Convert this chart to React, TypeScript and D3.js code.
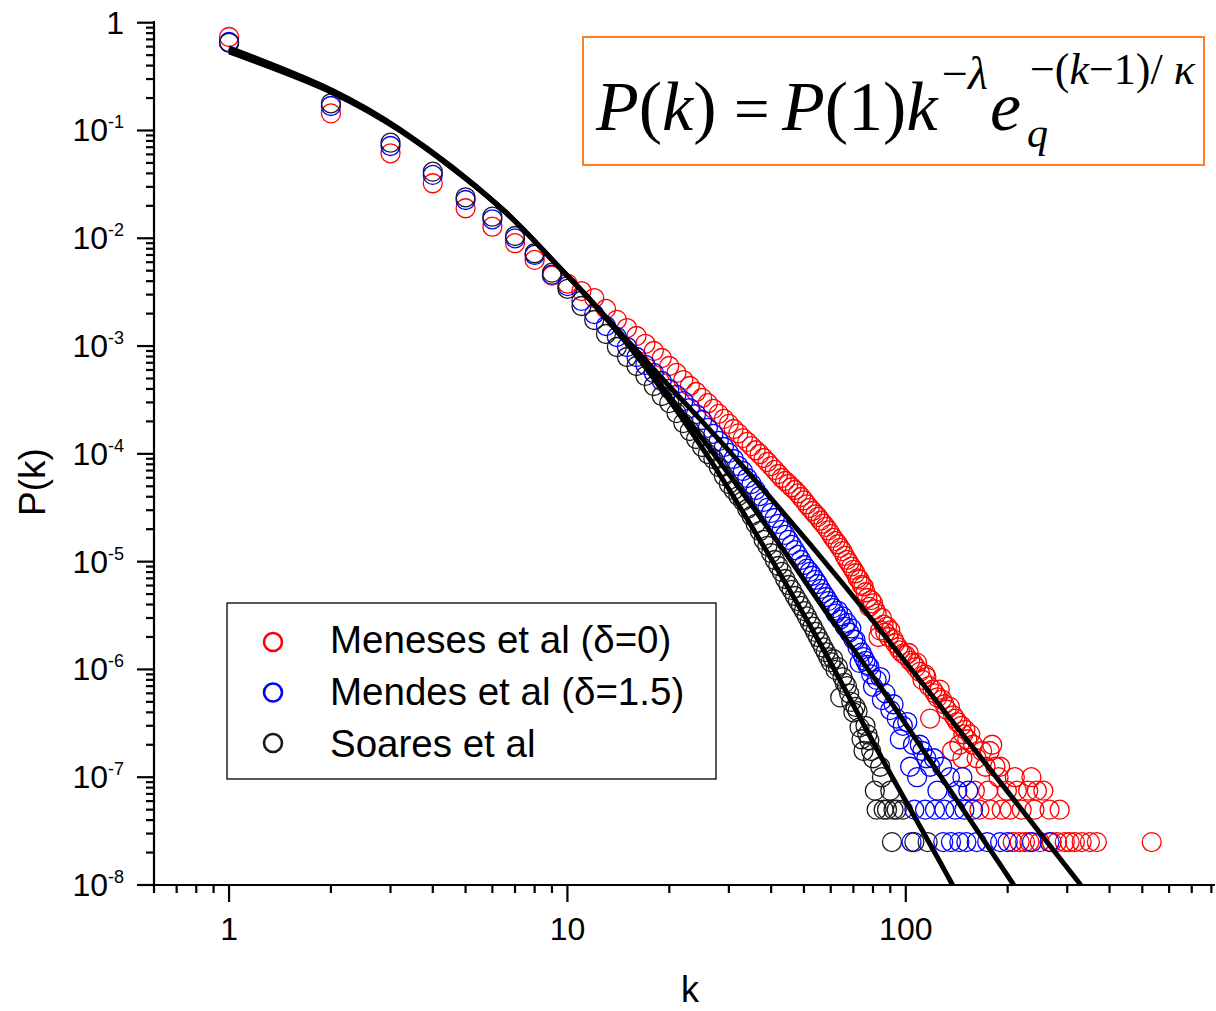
import React from 'react';
import * as d3 from 'd3';

// ---------- data ----------
// dense parts: P(k) for k = 1, 2, 3, ...
const menesesDense = [
  0.737, 0.144, 0.0614, 0.0324, 0.019, 0.0128, 0.009, 0.0063, 0.0045, 0.0038,
  0.00324, 0.00279, 0.00221, 0.00175, 0.00147, 0.00124, 0.00105, 0.0009, 0.000775, 0.000653,
  0.000563, 0.000484, 0.000426, 0.000375, 0.00033, 0.000295, 0.000261, 0.000235, 0.000211, 0.00019,
  0.00017, 0.000155, 0.00014, 0.000129, 0.000118, 0.000108, 0.0000997, 0.0000915, 0.000084, 0.000077,
  0.0000709, 0.000065, 0.0000597, 0.000056, 0.0000525, 0.000049, 0.0000462, 0.000043, 0.0000398, 0.000037,
  0.000034, 0.0000315, 0.0000295, 0.0000275, 0.000026, 0.000024, 0.0000225, 0.000021, 0.0000195, 0.000018,
  0.0000166, 0.0000155, 0.0000145, 0.0000134, 0.0000125, 0.0000113, 0.0000104, 0.0000097, 0.000009, 0.0000084,
  0.0000078, 0.000007, 0.0000068, 0.0000061, 0.0000059, 0.0000052,
];
const menesesTail: [number, number][] = [
  [77, 4.6e-6], [78, 3.8e-6], [79, 4.4e-6], [80, 4.1e-6], [81, 3.6e-6], [82, 3.3e-6], [83, 2.0e-6],
  [84, 2.3e-6], [85, 3.0e-6], [86, 2.6e-6], [87, 2.2e-6], [88, 2.5e-6], [89, 2.0e-6], [90, 2.3e-6],
  [92, 1.9e-6], [93, 1.75e-6], [95, 1.6e-6], [96, 1.5e-6], [98, 1.4e-6], [100, 1.35e-6], [102, 1.42e-6],
  [103, 1.2e-6], [105, 1.15e-6], [107, 1.05e-6], [108, 1.15e-6], [110, 9.5e-7], [112, 8e-7], [114, 9e-7],
  [115, 8.5e-7], [117, 7e-7], [118, 3.5e-7], [120, 6.5e-7], [122, 6e-7], [124, 5.5e-7], [126, 6.5e-7],
  [128, 5.25e-7], [130, 4.75e-7], [132, 4.25e-7], [135, 4.5e-7], [137, 1.75e-7], [138, 3.75e-7],
  [140, 3.5e-7], [142, 3.25e-7], [144, 2e-7], [146, 3e-7], [147, 1.5e-7], [148, 2.5e-7], [150, 2.75e-7],
  [152, 2.25e-7], [155, 2.5e-7], [158, 2e-7], [160, 7.5e-8], [162, 1.5e-7], [165, 5e-8], [168, 1.75e-7],
  [172, 1.25e-7], [175, 7.5e-8], [177, 1.75e-7], [178, 5e-8], [180, 2e-7], [184, 1.25e-7], [188, 1e-7],
  [190, 1.25e-7], [192, 5e-8], [199, 7.5e-8], [203, 5e-8], [207, 2.5e-8], [210, 1e-7], [213, 7.5e-8],
  [217, 2.5e-8], [220, 5e-8], [225, 2.5e-8], [230, 7.5e-8], [232, 2.5e-8], [235, 1e-7], [240, 5e-8],
  [244, 7.5e-8], [249, 2.5e-8], [255, 7.5e-8], [266, 5e-8], [270, 2.5e-8], [280, 2.5e-8], [285, 5e-8],
  [295, 2.5e-8], [305, 2.5e-8], [316, 2.5e-8], [331, 2.5e-8], [350, 2.5e-8], [367, 2.5e-8], [533, 2.5e-8],
];

const mendesDense = [
  0.662, 0.1688, 0.0718, 0.0387, 0.02265, 0.015, 0.01, 0.007, 0.0046, 0.0036,
  0.00262, 0.00198, 0.001535, 0.001214, 0.00098, 0.000792, 0.000668, 0.000563, 0.000474, 0.0004,
  0.000352, 0.000309, 0.000266, 0.000234, 0.000206, 0.000174, 0.000153, 0.0001317, 0.0001158, 0.0001019,
  0.0000896, 0.0000772, 0.0000693, 0.0000597, 0.0000525, 0.0000462, 0.0000406, 0.0000358, 0.0000315, 0.0000283,
  0.0000254, 0.0000224, 0.0000197, 0.0000177, 0.0000159, 0.0000143, 0.0000128, 0.00001153, 0.00001036, 0.00000931,
  0.0000086, 0.00000802, 0.0000074, 0.00000676, 0.0000062, 0.00000558, 0.0000051, 0.0000047, 0.0000043, 0.00000396,
];
const mendesTail: [number, number][] = [
  [61, 3.7e-6], [62, 3.3e-6], [63, 3.5e-6], [64, 2.9e-6], [65, 3.1e-6], [66, 2.5e-6], [67, 2.7e-6],
  [68, 2.2e-6], [69, 2.4e-6], [70, 1.9e-6], [71, 1.88e-6], [72, 1.6e-6], [73, 1.15e-6], [74, 1.43e-6],
  [75, 1.3e-6], [76, 1.2e-6], [77, 1.1e-6], [78, 1.06e-6], [79, 9e-7], [80, 6.9e-7], [82, 8e-7],
  [84, 8.5e-7], [85, 5.2e-7], [87, 6e-7], [90, 4.2e-7], [92, 4.75e-7], [94, 3.5e-7], [96, 2.25e-7],
  [98, 3e-7], [101, 3.25e-7], [103, 1.25e-7], [105, 2e-7], [108, 1e-7], [110, 2e-7], [112, 1.75e-7],
  [115, 1.5e-7], [118, 1.25e-7], [121, 1.5e-7], [124, 7.5e-8], [128, 1.25e-7], [135, 1e-7], [142, 7.5e-8],
  [147, 1e-7], [153, 7.5e-8], [106, 5e-8], [114, 5e-8], [122, 5e-8], [130, 5e-8], [140, 5e-8], [149, 5e-8],
  [158, 5e-8], [104, 2.5e-8], [129, 2.5e-8], [136, 2.5e-8], [144, 2.5e-8], [151, 2.5e-8], [162, 2.5e-8],
  [174, 2.5e-8], [190, 2.5e-8], [200, 2.5e-8], [236, 2.5e-8], [266, 2.5e-8],
];

const soaresDense = [
  0.65, 0.1788, 0.077, 0.0415, 0.024, 0.01585, 0.0105, 0.00726, 0.0048, 0.0034,
  0.002353, 0.001745, 0.001294, 0.00098, 0.000792, 0.000653, 0.000528, 0.000426, 0.000344, 0.000296,
  0.000239, 0.000193, 0.000163, 0.0001373, 0.0001158, 0.0000997, 0.0000896, 0.0000755, 0.0000623, 0.0000525,
  0.0000462, 0.0000406, 0.0000365, 0.0000308, 0.0000265, 0.0000224, 0.0000192, 0.0000159, 0.000014, 0.000012,
  0.00001036, 0.00000911, 0.00000802, 0.0000069, 0.00000607, 0.00000546, 0.0000048, 0.00000431, 0.00000388, 0.00000348,
  0.0000031, 0.00000275, 0.0000025, 0.00000223, 0.000002, 0.0000018, 0.0000016, 0.00000145, 0.0000013, 0.00000117,
];
const soaresTail: [number, number][] = [
  [61, 1.25e-6], [62, 9.9e-7], [63, 1.05e-6], [64, 5.5e-7], [65, 8.5e-7], [66, 7.5e-7], [67, 7e-7],
  [68, 6e-7], [69, 5e-7], [70, 4e-7], [71, 4.5e-7], [72, 4.1e-7], [73, 2.9e-7], [74, 2.25e-7], [75, 1.75e-7],
  [76, 3e-7], [77, 2.5e-7], [78, 2.2e-7], [79, 1.75e-7], [80, 1.5e-7], [81, 7.5e-8], [82, 5e-8],
  [84, 1.25e-7], [85, 1e-7], [86, 5e-8], [88, 5e-8], [90, 7.5e-8], [91, 2.5e-8], [92, 5e-8], [94, 5e-8],
  [98, 5e-8], [106, 2.5e-8], [116, 2.5e-8],
];

// fitted curves
const fitMeneses: [number, number][] = [
  [1, 0.585], [2.03, 0.234], [3.2, 0.1025], [6.32, 0.0196], [9.5, 0.0053], [11.9, 0.00251],
  [18.76, 5.28e-4], [32.33, 8.23e-5], [63.83, 6.76e-6], [168.8, 1.445e-7], [328.9, 1e-8],
];
const fitMendes: [number, number][] = [
  [1, 0.558], [2.03, 0.2276], [3.2, 0.1011], [6.32, 0.0195], [9.5, 0.0053], [11.9, 0.00251],
  [18.76, 4.45e-4], [29.39, 7.09e-5], [42.45, 1.43e-5], [57.63, 3.56e-6], [83.8, 7.02e-7],
  [117.7, 1.445e-7], [192.1, 1.47e-8], [208.5, 1e-8],
];
const fitSoares: [number, number][] = [
  [1, 0.535], [2.03, 0.222], [3.2, 0.0995], [6.32, 0.0194], [9.5, 0.0053], [11.9, 0.00251],
  [16.38, 7.43e-4], [25.83, 9.76e-5], [37.04, 1.59e-5], [55.7, 1.76e-6], [85.52, 1.445e-7],
  [128.6, 1.47e-8], [137.5, 1e-8],
];

const seriesNames = ['Meneses et al (\u03B4=0)', 'Mendes et al (\u03B4=1.5)', 'Soares et al'];
const seriesColors = ['#ff0000', '#0000ff', '#1a1a1a'];
const xMajorTicks = [1, 10, 100];
const xMinorTicks = [0.6, 0.7, 0.8, 0.9, 2, 3, 4, 5, 6, 7, 8, 9, 20, 30, 40, 50, 60, 70, 80, 90, 200, 300, 400, 500, 600, 700, 800];
const yExponents = [0, -1, -2, -3, -4, -5, -6, -7, -8];

const SANS = "'Liberation Sans', Arial, Helvetica, sans-serif";
const SERIF = "'Liberation Serif', 'Times New Roman', serif";

export default function App() {
  const x = d3.scaleLog().domain([0.6, 820]).range([154, 1215]);
  const y = d3.scaleLog().domain([1e-8, 1]).range([885, 22.7]);

  const toPts = (dense: number[], tail: [number, number][]): [number, number][] => [
    ...dense.map((p, i) => [i + 1, p] as [number, number]),
    ...tail,
  ];
  const series = [
    toPts(menesesDense, menesesTail),
    toPts(mendesDense, mendesTail),
    toPts(soaresDense, soaresTail),
  ];
  const fits = [fitMeneses, fitMendes, fitSoares];

  const line = d3
    .line<[number, number]>()
    .x((d) => x(d[0]))
    .y((d) => y(d[1]))
    .curve(d3.curveCatmullRom.alpha(0.5));

  const yMinor: number[] = [];
  for (let e = -8; e < 0; e++) for (let m = 2; m <= 9; m++) yMinor.push(m * Math.pow(10, e));

  const axisX0 = x(0.6);
  const axisY0 = y(1e-8);

  return (
    <svg
      width={1216}
      height={1011}
      style={{ position: 'absolute', left: 0, top: 0, background: '#fff' }}
    >
      <rect x={0} y={0} width={1216} height={1011} fill="#fff" />

      {/* data points */}
      {series.map((pts, si) => (
        <g key={si} fill="none" stroke={seriesColors[si]} strokeWidth={1.3}>
          {pts.map((d, i) => (
            <circle key={i} cx={x(d[0])} cy={y(d[1])} r={9.5} />
          ))}
        </g>
      ))}

      {/* fit lines */}
      {fits.map((f, i) => (
        <path key={i} d={line(f) || ''} fill="none" stroke="#000" strokeWidth={5} strokeLinejoin="round" />
      ))}

      {/* axes */}
      <g stroke="#000" strokeWidth={2.2}>
        <line x1={axisX0} y1={axisY0} x2={1215} y2={axisY0} />
        <line x1={axisX0} y1={axisY0} x2={axisX0} y2={21} />
        {xMajorTicks.map((t) => (
          <line key={'xM' + t} x1={x(t)} x2={x(t)} y1={axisY0} y2={axisY0 + 17} />
        ))}
        {xMinorTicks.map((t) => (
          <line key={'xm' + t} x1={x(t)} x2={x(t)} y1={axisY0} y2={axisY0 + 8} />
        ))}
        {yExponents.map((e) => (
          <line key={'yM' + e} x1={axisX0 - 17} x2={axisX0} y1={y(Math.pow(10, e))} y2={y(Math.pow(10, e))} />
        ))}
        {yMinor.map((t, i) => (
          <line key={'ym' + i} x1={axisX0 - 8} x2={axisX0} y1={y(t)} y2={y(t)} />
        ))}
      </g>

      {/* tick labels */}
      <g fontFamily={SANS} fontSize={32} fill="#000">
        {xMajorTicks.map((t) => (
          <text key={'xl' + t} x={x(t)} y={940} textAnchor="middle">
            {String(t)}
          </text>
        ))}
        {yExponents.map((e) => (
          <text key={'yl' + e} x={124} y={y(Math.pow(10, e)) + 11} textAnchor="end">
            {e === 0 ? (
              '1'
            ) : (
              <>
                <tspan>10</tspan>
                <tspan fontSize={18} dy={-13}>
                  {'-' + String(-e)}
                </tspan>
              </>
            )}
          </text>
        ))}
      </g>

      {/* axis titles */}
      <text x={690} y={1002} textAnchor="middle" fontFamily={SANS} fontSize={36}>
        k
      </text>
      <text
        transform="translate(45,482) rotate(-90)"
        textAnchor="middle"
        fontFamily={SANS}
        fontSize={37}
      >
        P(k)
      </text>

      {/* legend */}
      <rect x={227} y={603} width={489} height={176} fill="#fff" stroke="#000" strokeWidth={1.3} />
      {seriesNames.map((n, i) => (
        <g key={n}>
          <circle cx={273} cy={642 + i * 50.5} r={9} fill="none" stroke={seriesColors[i]} strokeWidth={2.6} />
          <text x={330} y={653 + i * 52} fontFamily={SANS} fontSize={38.5}>
            {n}
          </text>
        </g>
      ))}

      {/* formula box */}
      <rect x={583} y={37} width={621} height={128} fill="#fff" stroke="#ff7f27" strokeWidth={2} />
      <g fontFamily={SERIF} fill="#000">
        <text x={596} y={130} fontSize={70}>
          <tspan fontStyle="italic">P</tspan>
          <tspan>(</tspan>
          <tspan fontStyle="italic">k</tspan>
          <tspan>)</tspan>
        </text>
        <text x={734} y={130} fontSize={63}>
          =
        </text>
        <text x={782} y={130} fontSize={70}>
          <tspan fontStyle="italic">P</tspan>
          <tspan>(1)</tspan>
          <tspan fontStyle="italic">k</tspan>
        </text>
        <text x={942} y={89} fontSize={46}>
          <tspan>{'\u2212'}</tspan>
          <tspan fontStyle="italic">{'\u03BB'}</tspan>
        </text>
        <text x={990} y={130} fontSize={70} fontStyle="italic">
          e
        </text>
        <text x={1027} y={147} fontSize={42} fontStyle="italic">
          q
        </text>
        <text x={1030} y={84} fontSize={44}>
          <tspan>{'\u2212('}</tspan>
          <tspan fontStyle="italic">k</tspan>
          <tspan>{'\u22121)/ '}</tspan>
          <tspan fontStyle="italic">{'\u03BA'}</tspan>
        </text>
      </g>
    </svg>
  );
}
